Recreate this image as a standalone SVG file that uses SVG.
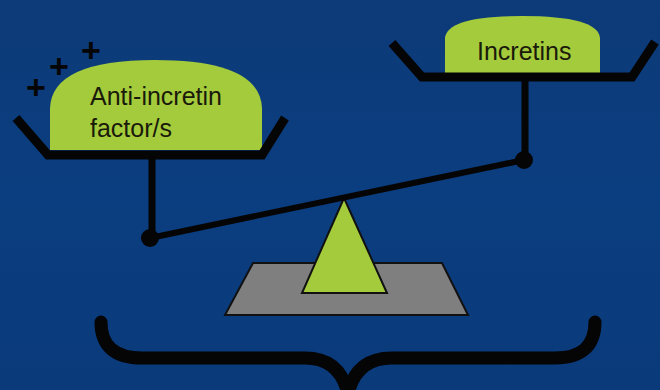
<svg xmlns="http://www.w3.org/2000/svg" width="660" height="390" viewBox="0 0 660 390">
<style>
.bar{fill:none;stroke:#050505;stroke-linejoin:miter;}
.dome{fill:#a4cb3c;}
.lbl{font-family:"Liberation Sans",Arial,sans-serif;font-size:25px;fill:#1a1a0a;}
.plus{font-family:"Liberation Sans",Arial,sans-serif;font-size:34px;font-weight:bold;fill:#050505;text-anchor:middle;}
</style>
<defs>
<linearGradient id="bg" x1="0" y1="0" x2="0" y2="1">
<stop offset="0" stop-color="#0d3a78"/>
<stop offset="0.5" stop-color="#0b3e80"/>
<stop offset="1" stop-color="#0a3a7a"/>
</linearGradient>
</defs>
<rect width="660" height="390" fill="url(#bg)"/>
<g id="base">
<polygon points="253,263 442,263 468,315 225,315" fill="#7f7f7f" stroke="#111" stroke-width="2"/>
</g>
<g id="fulcrum">
<polygon points="344,198 387,293 302,293" fill="#a4cb3c" stroke="#111" stroke-width="2"/>
</g>
<g id="connectors">
<line x1="150" y1="238" x2="524" y2="160" stroke="#050505" stroke-width="6"/>
<line x1="152" y1="155" x2="152" y2="238" stroke="#050505" stroke-width="7"/>
<line x1="525" y1="76" x2="525" y2="160" stroke="#050505" stroke-width="7"/>
<circle cx="150" cy="238" r="9" fill="#050505"/>
<circle cx="524" cy="160" r="9" fill="#050505"/>
</g>
<g id="left-pan">
<path class="dome" d="M50,150 L50,108 Q52,60 155,60 Q260,60 262,108 L262,150 Z"/>
<polyline class="bar" stroke-width="9" points="16,118 48,155 262,155 285,118"/>
<text class="lbl" x="90" y="105">Anti-incretin</text>
<text class="lbl" x="90" y="137">factor/s</text>
<text class="plus" x="36" y="99">+</text>
<text class="plus" x="59" y="78">+</text>
<text class="plus" x="91" y="62">+</text>
</g>
<g id="right-pan">
<path class="dome" d="M445,74 L445,38 Q447,16 522,16 Q598,16 600,38 L600,74 Z"/>
<polyline class="bar" stroke-width="9" points="392,43 422,77 632,77 655,42"/>
<text class="lbl" x="477" y="60">Incretins</text>
</g>
<g id="brace">
<path d="M101,322 Q101,358 142,358 L305,358 Q340,358 348,394 Q356,358 392,358 L555,358 Q595,358 595,322" fill="none" stroke="#050505" stroke-width="13" stroke-linecap="round" stroke-linejoin="round"/>
</g>
</svg>
